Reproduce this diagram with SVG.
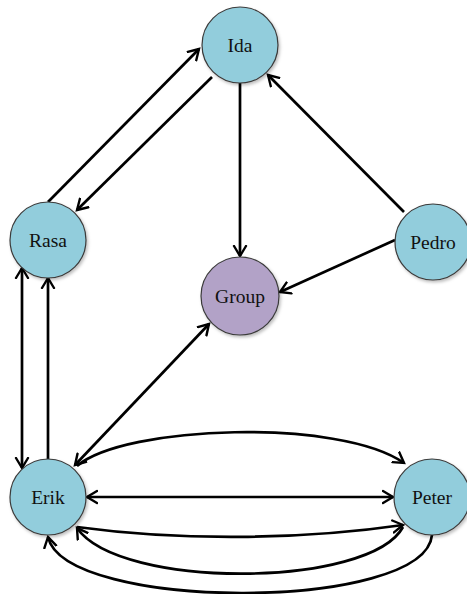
<svg xmlns="http://www.w3.org/2000/svg" width="467" height="594" viewBox="0 0 467 594">
  <style>
    .node { stroke: #3a3a3a; stroke-width: 1.2; filter: url(#shadow); }
    .blue { fill: #92CDDC; }
    .purple { fill: #B2A2C7; }
    .label { font-family: "Liberation Serif", "Times New Roman", serif; font-size: 19.5px; fill: #111; text-anchor: middle; }
    .edge { fill: none; stroke: #000; stroke-width: 2.7; }
    .to { marker-end: url(#arrow); }
    .both { marker-start: url(#arrow); marker-end: url(#arrow); }
  </style>
  <defs>
    <marker id="arrow" markerUnits="userSpaceOnUse" markerWidth="16" markerHeight="16" refX="11" refY="7" orient="auto-start-reverse" viewBox="0 0 16 14">
      <path d="M1,1 L11,7 L1,13" fill="none" stroke="#000" stroke-width="2.4" stroke-linecap="round" stroke-linejoin="miter"/>
    </marker>
    <filter id="shadow" x="-20%" y="-20%" width="150%" height="150%">
      <feDropShadow dx="1.5" dy="2" stdDeviation="1.5" flood-color="#000" flood-opacity="0.25"/>
    </filter>
  </defs>

  <g id="connectors">
    <!-- Rasa / Ida pair -->
    <path class="edge to" d="M48,202 L199,49"/>
    <path class="edge to" d="M212,77 L77,210"/>
    <!-- Ida to Group -->
    <path class="edge to" d="M240,83 L240,256"/>
    <!-- Pedro edges -->
    <path class="edge to" d="M404,212 L268,75"/>
    <path class="edge to" d="M395,240 L280,292"/>
    <!-- Erik / Rasa pair -->
    <path class="edge both" d="M22,468 L22,268"/>
    <path class="edge to" d="M48,459 L48,278"/>
    <!-- Erik / Group -->
    <path class="edge both" d="M75,465 L209,324"/>
    <!-- Erik / Peter -->
    <path class="edge to" d="M77,466 C125,425 340,418 404,463"/>
    <path class="edge both" d="M87,497 L393,497"/>
    <path class="edge to" d="M77,527 C180,541 300,540 403,525"/>
    <path class="edge to" d="M403,527 C370,588 120,590 77,528"/>
    <path class="edge to" d="M432,535 C425,612 65,612 48,537"/>
  </g>

  <g id="ida">
    <circle class="node blue" cx="240" cy="45" r="38"/>
    <text class="label" x="240" y="52">Ida</text>
  </g>
  <g id="rasa">
    <circle class="node blue" cx="48" cy="240" r="38"/>
    <text class="label" x="48" y="247">Rasa</text>
  </g>
  <g id="group">
    <circle class="node purple" cx="240" cy="296" r="39"/>
    <text class="label" x="240" y="303">Group</text>
  </g>
  <g id="pedro">
    <circle class="node blue" cx="433" cy="242" r="38"/>
    <text class="label" x="433" y="249">Pedro</text>
  </g>
  <g id="erik">
    <circle class="node blue" cx="48" cy="497" r="38"/>
    <text class="label" x="48" y="504">Erik</text>
  </g>
  <g id="peter">
    <circle class="node blue" cx="432" cy="497" r="38"/>
    <text class="label" x="432" y="504">Peter</text>
  </g>
</svg>
